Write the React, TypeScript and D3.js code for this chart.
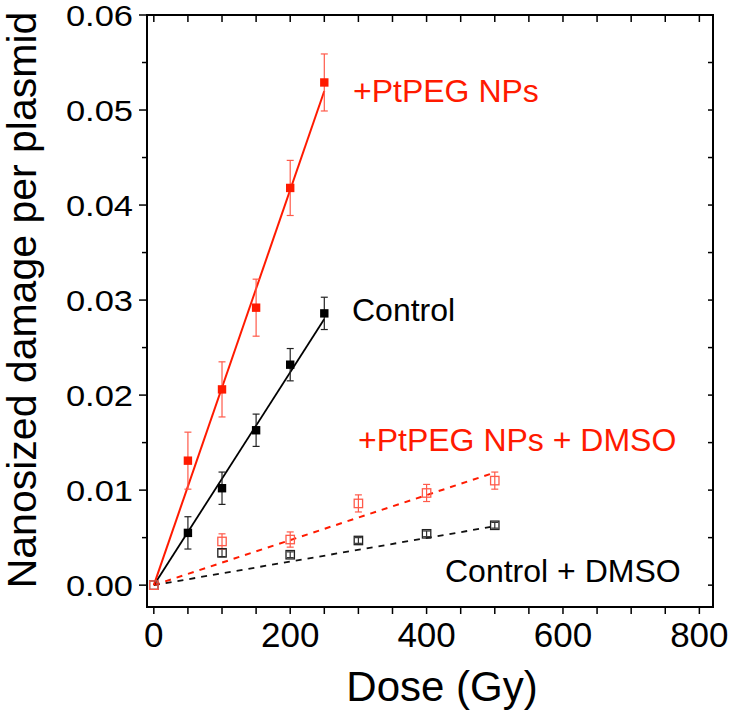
import React from "react";
import * as d3 from "d3";

// Doses (Gy)
const doseNP = [50, 100, 150, 200, 250];
const doseDMSO = [0, 100, 200, 300, 400, 500];

// Nanosized damage per plasmid
const ptpegNP = [0.0131, 0.0206, 0.0292, 0.0418, 0.0529];
const ptpegNPErr = [0.003, 0.0029, 0.003, 0.0029, 0.003];
const control = [0.0055, 0.0102, 0.0163, 0.0232, 0.0286];
const controlErr = [0.0017, 0.0017, 0.0017, 0.0017, 0.0017];
const ptpegDMSO = [0, 0.0046, 0.0048, 0.0086, 0.0097, 0.011];
const ptpegDMSOErr = [0, 0.0008, 0.0008, 0.0009, 0.0009, 0.0009];
const controlDMSO = [0, 0.0034, 0.0032, 0.0047, 0.0054, 0.0063];
const controlDMSOErr = [0, 0.0004, 0.0003, 0.0003, 0.0003, 0.0003];

// linear fits through origin: slope, end dose
const fitSlopes = [0.000208, 0.000112, 0.0000237, 0.0000124];
const fitEnds = [250, 250, 500, 500];

const xTickValues = d3.range(0, 801, 50);
const xLabelValues = [0, 200, 400, 600, 800];
const yTickValues = d3.range(0, 13).map((i) => i * 0.005);
const yLabelValues = d3.range(0, 7).map((i) => i * 0.01);

const RED = "#ff1a00";
const RED_LIGHT = "#ff5a4a";
const FONT = "Arial, 'Liberation Sans', Helvetica, sans-serif";

export default function App() {
  const x = d3.scaleLinear().domain([-10, 820]).range([147, 713]);
  const y = d3.scaleLinear().domain([-0.0023, 0.06]).range([607, 15]);
  const [x0, x1] = x.range();
  const [y0, y1] = y.range();

  const line = d3
    .line<[number, number]>()
    .x((d) => x(d[0]))
    .y((d) => y(d[1]));

  const fitPath = (i: number) =>
    line([
      [0, 0],
      [fitEnds[i], fitSlopes[i] * fitEnds[i]],
    ]) || "";

  const errBars = (xs: number[], vs: number[], es: number[], color: string) =>
    xs.map((d, i) =>
      es[i] > 0 ? (
        <g key={i} stroke={color} strokeWidth={1.2}>
          <line x1={x(d)} x2={x(d)} y1={y(vs[i] - es[i])} y2={y(vs[i] + es[i])} />
          <line x1={x(d) - 3.5} x2={x(d) + 3.5} y1={y(vs[i] - es[i])} y2={y(vs[i] - es[i])} />
          <line x1={x(d) - 3.5} x2={x(d) + 3.5} y1={y(vs[i] + es[i])} y2={y(vs[i] + es[i])} />
        </g>
      ) : null
    );

  const squares = (xs: number[], vs: number[], color: string, filled: boolean) =>
    xs.map((d, i) => (
      <rect
        key={i}
        x={x(d) - 4.2}
        y={y(vs[i]) - 4.2}
        width={8.4}
        height={8.4}
        fill={filled ? color : "none"}
        stroke={color}
        strokeWidth={filled ? 0 : 1.3}
      />
    ));

  return (
    <svg
      width={735}
      height={716}
      style={{ position: "absolute", left: 0, top: 0, background: "#fff" }}
      fontFamily={FONT}
    >
      <rect width={735} height={716} fill="#fff" />

      {/* fit lines */}
      <path d={fitPath(3)} stroke="#111" strokeWidth={1.8} strokeDasharray="6,6" fill="none" />
      <path d={fitPath(2)} stroke={RED} strokeWidth={2} strokeDasharray="6,6" fill="none" />
      <path d={fitPath(1)} stroke="#000" strokeWidth={1.8} fill="none" />
      <path d={fitPath(0)} stroke={RED} strokeWidth={2} fill="none" />

      {/* error bars */}
      {errBars(doseDMSO, controlDMSO, controlDMSOErr, "#333")}
      {errBars(doseDMSO, ptpegDMSO, ptpegDMSOErr, RED_LIGHT)}
      {errBars(doseNP, control, controlErr, "#222")}
      {errBars(doseNP, ptpegNP, ptpegNPErr, RED_LIGHT)}

      {/* markers */}
      {squares(doseDMSO, controlDMSO, "#222", false)}
      {squares(doseDMSO, ptpegDMSO, RED_LIGHT, false)}
      {squares(doseNP, control, "#000", true)}
      {squares(doseNP, ptpegNP, RED, true)}

      {/* frame */}
      <rect x={x0} y={y1} width={x1 - x0} height={y0 - y1} fill="none" stroke="#000" strokeWidth={2} />

      {/* x ticks: bottom outward, top inward */}
      {xTickValues.map((t) => (
        <g key={t} stroke="#000" strokeWidth={1.5}>
          <line x1={x(t)} x2={x(t)} y1={y0} y2={y0 + 7} />
          <line x1={x(t)} x2={x(t)} y1={y1} y2={y1 + 7} />
        </g>
      ))}
      {xLabelValues.map((t) => (
        <text key={t} x={x(t)} y={647} textAnchor="middle" fontSize={35} fill="#000">
          {t}
        </text>
      ))}

      {/* y ticks: left outward, right inward */}
      {yTickValues.map((t, i) => (
        <g key={i} stroke="#000" strokeWidth={1.5}>
          <line x1={x0 - (i % 2 === 0 ? 8 : 5)} x2={x0} y1={y(t)} y2={y(t)} />
          <line x1={x1 - 5} x2={x1} y1={y(t)} y2={y(t)} />
        </g>
      ))}
      {yLabelValues.map((t, i) => (
        <text
          key={i}
          transform={`translate(133, ${y(t) + 11}) scale(1.15, 1)`}
          textAnchor="end"
          fontSize={30}
          fill="#000"
        >
          {d3.format(".2f")(t)}
        </text>
      ))}

      {/* axis titles */}
      <text x={(x0 + x1) / 2 + 12} y={701} textAnchor="middle" fontSize={42} fill="#000">
        Dose (Gy)
      </text>
      <text transform="translate(36, 300) rotate(-90)" textAnchor="middle" fontSize={41} fill="#000">
        Nanosized damage per plasmid
      </text>

      {/* series labels */}
      <text x={353} y={102} fontSize={32} fill={RED}>
        +PtPEG NPs
      </text>
      <text x={352} y={321} fontSize={32} fill="#000">
        Control
      </text>
      <text x={358} y={451} fontSize={32} fill={RED}>
        +PtPEG NPs + DMSO
      </text>
      <text x={445} y={582} fontSize={32} fill="#000">
        Control + DMSO
      </text>
    </svg>
  );
}
